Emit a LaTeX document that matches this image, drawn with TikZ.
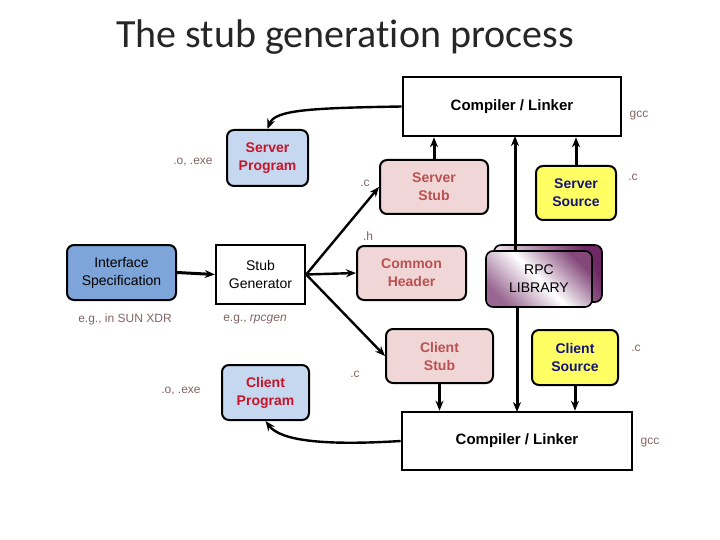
\documentclass[tikz,border=0pt]{standalone}
\usepackage{fontspec}
\setmainfont{Liberation Sans}
\newfontfamily\titlefont[Ligatures=NoCommon]{Carlito}
\usetikzlibrary{arrows.meta}
\definecolor{specblue}{RGB}{125,165,218}
\definecolor{progblue}{RGB}{198,216,240}
\definecolor{progred}{RGB}{200,20,40}
\definecolor{stubpink}{RGB}{240,214,214}
\definecolor{stubtext}{RGB}{188,80,80}
\definecolor{srcyellow}{RGB}{255,255,100}
\definecolor{srctext}{RGB}{20,20,120}
\definecolor{lbl}{RGB}{130,100,100}
\definecolor{rpcpurple}{RGB}{110,40,100}
\begin{document}
\begin{tikzpicture}[x=1pt,y=-1pt,
  box/.style={draw,line width=2pt,rounded corners=7pt,align=center,font=\fontsize{14}{18}\selectfont,inner sep=0pt},
  prog/.style={box,fill=progblue,text=progred,font=\fontsize{14}{18}\selectfont\bfseries},
  stub/.style={box,fill=stubpink,text=stubtext,font=\fontsize{14}{18}\selectfont\bfseries},
  src/.style={box,fill=srcyellow,text=srctext,font=\fontsize{14}{18}\selectfont\bfseries},
  comp/.style={draw,line width=2.6pt,fill=white,align=center,font=\fontsize{15}{18}\selectfont\bfseries,inner sep=0pt},
  lab/.style={text=lbl,font=\fontsize{12}{14}\selectfont,inner sep=0pt},
  arr/.style={line width=3pt,-{Stealth[length=10pt,width=8pt]}},
  arrt/.style={line width=2.4pt,-{Stealth[length=10pt,width=8pt]}}]
\useasboundingbox (0,0) rectangle (720,540);
\node[font=\titlefont\fontsize{40}{44}\selectfont,text=black!85] (title) at (345,37) {The stub generation process};
\node[comp,minimum width=218pt,minimum height=59pt] (ct) at (512,106.5) {Compiler / Linker};
\node[comp,minimum width=230pt,minimum height=58pt] (cb) at (517,441) {Compiler / Linker};
\node[prog,minimum width=81pt,minimum height=56pt] (sp) at (267.5,158) {Server\\Program};
\node[prog,minimum width=87pt,minimum height=55pt] (cp) at (265.5,392.5) {Client\\Program};
\node[box,fill=specblue,minimum width=109pt,minimum height=55pt] (is) at (121.5,272.5) {Interface\\Specification};
\node[draw,line width=2.4pt,fill=white,minimum width=89pt,minimum height=59pt,align=center,font=\fontsize{14}{18}\selectfont,inner sep=0pt] (sg) at (260.5,274.5) {Stub\\Generator};
\node[stub,minimum width=108pt,minimum height=54pt] (ss) at (434,187) {Server\\Stub};
\node[stub,minimum width=109pt,minimum height=54pt] (ch) at (411.5,273) {Common\\Header};
\node[stub,minimum width=107pt,minimum height=54pt] (cs) at (439.5,356) {Client\\Stub};
\node[src,minimum width=80pt,minimum height=54pt] (svs) at (576,193) {Server\\Source};
\node[src,minimum width=86pt,minimum height=55pt] (cls) at (575,357.5) {Client\\Source};
\draw[line width=1.6pt,rounded corners=7pt,left color=rpcpurple,right color=white,shading angle=-60] (494,245) rectangle (602,302);
\node[box,line width=1.6pt,minimum width=106pt,minimum height=56pt,shade,shading=axis,left color=rpcpurple!85,right color=rpcpurple!70,middle color=white,shading angle=-45] (rpc) at (539,279) {RPC\\LIBRARY};
\node[lab] (l1) at (193,162) {.o, .exe};
\node[lab] (l2) at (181,391) {.o, .exe};
\node[lab] (l3) at (365,183) {.c};
\node[lab] (l4) at (368,236) {.h};
\node[lab] (l5) at (355,374) {.c};
\node[lab] (l6) at (633,177) {.c};
\node[lab] (l7) at (636,348) {.c};
\node[lab] (l8) at (639,116) {gcc};
\node[lab] (l9) at (650,443) {gcc};
\node[lab] (l10) at (125,319) {e.g., in SUN XDR};
\node[lab] (l11) at (255,320) {e.g., \textit{rpcgen}};
\draw[arr] (is.east) -- (sg.west);
\draw[arrt] (sg.east) -- (ss.west);
\draw[arrt] (sg.east) -- (ch.west);
\draw[arrt] (sg.east) -- (cs.west);
\draw[arr] (ss.north) -- (ss.north |- ct.south);
\draw[arr] (515,251) -- (515,136);
\draw[arr] (svs.north) -- (svs.north |- ct.south);
\draw[arr] (cs.south) -- (cs.south |- cb.north);
\draw[arr] (517,307) -- (517,412);
\draw[arr] (cls.south) -- (cls.south |- cb.north);
\draw[arrt] (ct.west) .. controls (310,108) and (275,110) .. (sp.north);
\draw[arrt] (cb.west) .. controls (320,446) and (280,440) .. (cp.south);
\end{tikzpicture}
\end{document}
